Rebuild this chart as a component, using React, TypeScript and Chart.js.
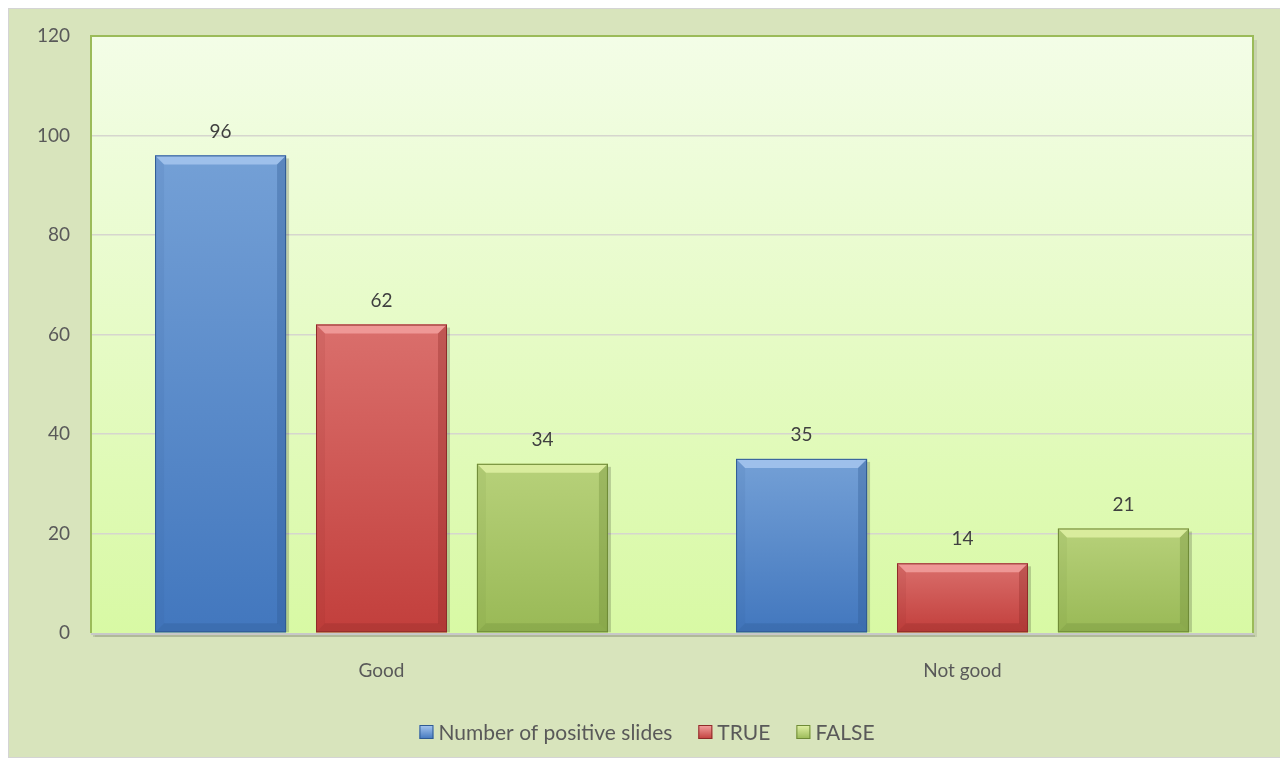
import React, { useEffect, useRef } from "react";
import { Chart, registerables } from "chart.js";

Chart.register(...registerables);

const categories = ["Good", "Not good"];
const seriesNames = ["Number of positive slides", "TRUE", "FALSE"];
const positiveSlides = [96, 35];
const trueValues = [62, 14];
const falseValues = [34, 21];
const yMin = 0;
const yMax = 120;
const yStep = 20;

const FONT = "Lato, 'Open Sans', sans-serif";

const palette = [
  { top: "#74A0D6", bottom: "#4277BE", light: "#A9C8F0", dark: "#2F5A93", mid: "#5A8ACB" },
  { top: "#DA6F6C", bottom: "#C23F3C", light: "#F4A3A1", dark: "#8E2B29", mid: "#CE5552" },
  { top: "#B7D17A", bottom: "#99B956", light: "#E2F2A6", dark: "#6E8A37", mid: "#A8C567" },
];

const bevelPlugin = {
  id: "bevelBars",
  beforeDraw(chart: any) {
    const { ctx, chartArea: a } = chart;
    ctx.save();
    ctx.fillStyle = "rgba(0,0,0,0.08)";
    ctx.fillRect(a.left + 4, a.top + 4, a.right - a.left, a.bottom - a.top);
    const g = ctx.createLinearGradient(0, a.top, 0, a.bottom);
    g.addColorStop(0, "#F3FDE7");
    g.addColorStop(0.5, "#E6FBC6");
    g.addColorStop(1, "#D8F9A4");
    ctx.fillStyle = g;
    ctx.fillRect(a.left, a.top, a.right - a.left, a.bottom - a.top);
    ctx.restore();
  },
  afterDatasetsDraw(chart: any) {
    const { ctx } = chart;
    chart.data.datasets.forEach((ds: any, di: number) => {
      const meta = chart.getDatasetMeta(di);
      const c = palette[di];
      meta.data.forEach((bar: any, bi: number) => {
        const w = bar.width;
        const x0 = bar.x - w / 2;
        const x1 = bar.x + w / 2;
        const y0 = Math.min(bar.y, bar.base);
        const y1 = Math.max(bar.y, bar.base);
        const h = y1 - y0;
        ctx.save();
        ctx.fillStyle = "rgba(0,0,0,0.18)";
        ctx.fillRect(x1, y0 + 3, 3, h - 3);
        const g = ctx.createLinearGradient(0, y0, 0, y1);
        g.addColorStop(0, c.top);
        g.addColorStop(1, c.bottom);
        ctx.fillStyle = g;
        ctx.fillRect(x0, y0, w, h);
        const b = Math.min(9, h / 3);
        ctx.fillStyle = c.light;
        ctx.globalAlpha = 0.8;
        ctx.beginPath();
        ctx.moveTo(x0, y0);
        ctx.lineTo(x1, y0);
        ctx.lineTo(x1 - b, y0 + b);
        ctx.lineTo(x0 + b, y0 + b);
        ctx.closePath();
        ctx.fill();
        ctx.fillStyle = c.dark;
        ctx.globalAlpha = 0.3;
        ctx.beginPath();
        ctx.moveTo(x0, y1);
        ctx.lineTo(x1, y1);
        ctx.lineTo(x1 - b, y1 - b);
        ctx.lineTo(x0 + b, y1 - b);
        ctx.closePath();
        ctx.fill();
        ctx.globalAlpha = 0.1;
        ctx.beginPath();
        ctx.moveTo(x0, y0);
        ctx.lineTo(x0 + b, y0 + b);
        ctx.lineTo(x0 + b, y1 - b);
        ctx.lineTo(x0, y1);
        ctx.closePath();
        ctx.fill();
        ctx.globalAlpha = 0.35;
        ctx.beginPath();
        ctx.moveTo(x1, y0);
        ctx.lineTo(x1 - b, y0 + b);
        ctx.lineTo(x1 - b, y1 - b);
        ctx.lineTo(x1, y1);
        ctx.closePath();
        ctx.fill();
        ctx.globalAlpha = 1;
        ctx.strokeStyle = c.dark;
        ctx.lineWidth = 1;
        ctx.strokeRect(x0 + 0.5, y0 + 0.5, w - 1, h - 1);
        ctx.restore();

        ctx.save();
        ctx.fillStyle = "#404040";
        ctx.font = `19px ${FONT}`;
        ctx.textAlign = "center";
        ctx.textBaseline = "middle";
        ctx.fillText(String(ds.data[bi]), bar.x, y0 - 24);
        ctx.restore();
      });
    });
  },
  afterDraw(chart: any) {
    const { ctx, chartArea: a } = chart;
    ctx.save();
    ctx.strokeStyle = "#9BBB59";
    ctx.lineWidth = 2;
    ctx.beginPath();
    ctx.moveTo(a.left, a.bottom);
    ctx.lineTo(a.left, a.top);
    ctx.lineTo(a.right, a.top);
    ctx.lineTo(a.right, a.bottom);
    ctx.stroke();
    ctx.strokeStyle = "#C8C8C8";
    ctx.lineWidth = 2;
    ctx.beginPath();
    ctx.moveTo(a.left, a.bottom + 1);
    ctx.lineTo(a.right, a.bottom + 1);
    ctx.stroke();
    ctx.strokeStyle = "rgba(0,0,0,0.12)";
    ctx.beginPath();
    ctx.moveTo(a.left + 2, a.bottom + 3);
    ctx.lineTo(a.right + 2, a.bottom + 3);
    ctx.stroke();

    ctx.font = `21px ${FONT}`;
    ctx.textBaseline = "middle";
    const box = 14;
    const gapBox = 5;
    const gapItem = 26;
    const widths = seriesNames.map((n) => ctx.measureText(n).width);
    const total =
      widths.reduce((s, w) => s + box + gapBox + w, 0) + gapItem * (seriesNames.length - 1);
    let x = chart.width / 2 - total / 2 + 2;
    const y = 723;
    seriesNames.forEach((n, i) => {
      const c = palette[i];
      const g = ctx.createLinearGradient(0, y - box / 2, 0, y + box / 2);
      g.addColorStop(0, c.light);
      g.addColorStop(1, c.bottom);
      ctx.fillStyle = g;
      ctx.fillRect(x, y - box / 2, box, box);
      ctx.strokeStyle = c.dark;
      ctx.lineWidth = 1;
      ctx.strokeRect(x + 0.5, y - box / 2 + 0.5, box - 1, box - 1);
      ctx.fillStyle = "#595959";
      ctx.textAlign = "left";
      ctx.fillText(n, x + box + gapBox, y + 1);
      x += box + gapBox + widths[i] + gapItem;
    });
    ctx.restore();
  },
};

export default function App() {
  const ref = useRef<HTMLCanvasElement>(null);
  useEffect(() => {
    if (!ref.current) return;
    const chart = new Chart(ref.current, {
      type: "bar",
      data: {
        labels: categories,
        datasets: [
          { label: seriesNames[0], data: positiveSlides, backgroundColor: palette[0].mid },
          { label: seriesNames[1], data: trueValues, backgroundColor: palette[1].mid },
          { label: seriesNames[2], data: falseValues, backgroundColor: palette[2].mid },
        ],
      },
      options: {
        responsive: false,
        animation: false,
        layout: { padding: { top: 27, right: 28, left: 0, bottom: 0 } },
        datasets: {
          bar: { categoryPercentage: 0.831, barPercentage: 0.814 },
        },
        plugins: {
          legend: { display: false },
          tooltip: { enabled: false },
        },
        scales: {
          x: {
            grid: { display: false, drawTicks: false },
            border: { display: false },
            ticks: { color: "#595959", font: { family: FONT, size: 19 }, padding: 26 },
            afterFit: (s: any) => {
              s.height = 124;
              s.paddingLeft = 0;
              s.paddingRight = 0;
            },
          },
          y: {
            min: yMin,
            max: yMax,
            grid: {
              color: (ctx: any) =>
                ctx.tick && (ctx.tick.value === yMin || ctx.tick.value === yMax)
                  ? "rgba(0,0,0,0)"
                  : "#D6D6CE",
              lineWidth: 1.5,
              drawTicks: false,
            },
            border: { display: false },
            ticks: {
              stepSize: yStep,
              color: "#595959",
              font: { family: FONT, size: 19 },
              padding: 21,
            },
            afterFit: (s: any) => {
              s.width = 82;
              s.paddingTop = 0;
              s.paddingBottom = 0;
            },
          },
        },
      },
      plugins: [bevelPlugin],
    });
    return () => chart.destroy();
  }, []);
  return (
    <div
      style={{
        width: 1274,
        height: 750,
        boxSizing: "border-box",
        border: "1px solid #D4D4D4",
        background: "#D8E4BC",
      }}
    >
      <canvas ref={ref} width={1272} height={748} style={{ display: "block" }} />
    </div>
  );
}
